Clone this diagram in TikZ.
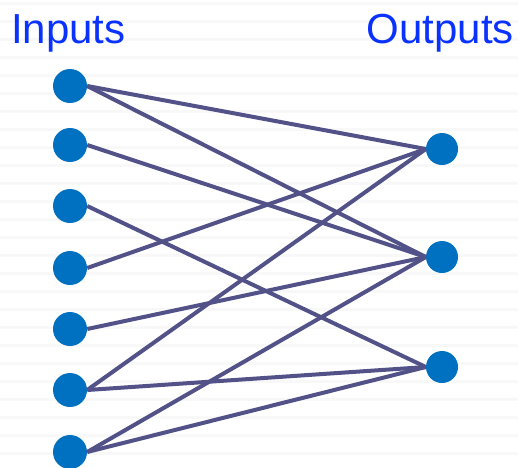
\documentclass[tikz,border=0pt]{standalone}
\usepackage{fontspec}
\setmainfont{Liberation Sans}
\definecolor{nodeblue}{HTML}{0070C0}
\definecolor{edgecol}{HTML}{525289}
\definecolor{txtblue}{HTML}{0A32FF}
\definecolor{stripe}{HTML}{F8F8F8}
\begin{document}
\begin{tikzpicture}[x=1pt,y=-1pt,
  neuron/.style={circle,fill=nodeblue,inner sep=0pt,minimum size=#1},
  neuron/.default=34pt,
  edge/.style={draw=edgecol,line width=4pt},
  title/.style={font=\fontsize{42}{42}\selectfont,text=txtblue,inner sep=0pt}]
\useasboundingbox (0,0) rectangle (518,467);
\foreach \y in {3,21,...,467} {\fill[stripe] (0,\y-1.5) rectangle (518,\y+1.5);}
\node[title,anchor=base west] (tin) at (11,43) {Inputs};
\node[title,anchor=base east] (tout) at (514,43) {Outputs};
\foreach \i/\y in {1/86,2/145,3/206,4/268,5/329,6/390,7/452} {\node[neuron] (in\i) at (70,\y) {};}
\foreach \j/\y in {1/149,2/257,3/367} {\node[neuron=32pt] (out\j) at (442,\y) {};}
\foreach \a/\b in {1/1,1/2,2/2,3/3,4/1,5/2,6/1,6/3,7/2,7/3}
  {\draw[edge] (in\a.east) -- (out\b.west);}
\end{tikzpicture}
\end{document}
